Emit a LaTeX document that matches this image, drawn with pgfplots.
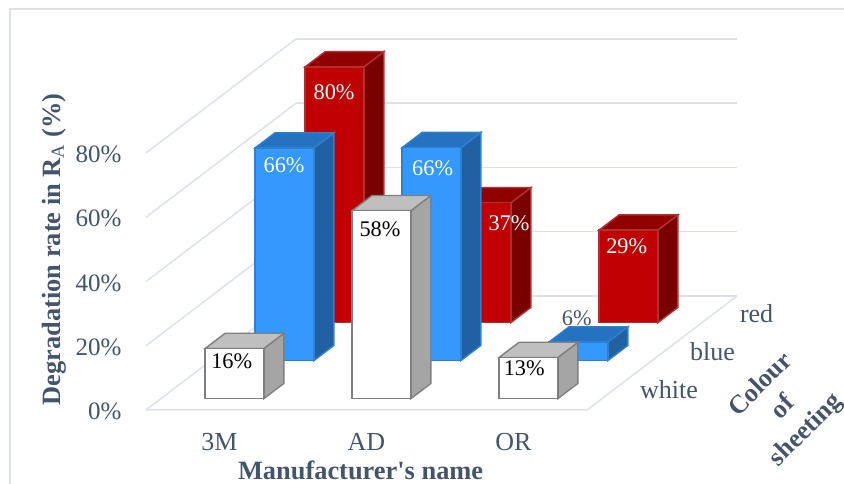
\documentclass[border=0pt]{standalone}
\usepackage{pgfplots}
\pgfplotsset{compat=1.18}
\usepackage{fontspec}
\setmainfont{Liberation Serif}
\definecolor{txt}{HTML}{44546A}
\definecolor{gridc}{HTML}{DDE1E9}
\newcommand\fs[1]{\fontsize{#1}{#1}\selectfont}
% x0 x1 y0 y1 height front side top edge
\newcommand\barbox[9]{%
  \addplot3[fill=#7,draw=#9,line width=\barlw] coordinates {(#2,#3,0)(#2,#4,0)(#2,#4,#5)(#2,#3,#5)} -- cycle;
  \addplot3[fill=#8,draw=#9,line width=\barlw] coordinates {(#1,#3,#5)(#2,#3,#5)(#2,#4,#5)(#1,#4,#5)} -- cycle;
  \addplot3[fill=#6,draw=#9,line width=\barlw] coordinates {(#1,#3,0)(#2,#3,0)(#2,#3,#5)(#1,#3,#5)} -- cycle;
}
\newcommand\barlw{0.3pt}
\definecolor{redF}{HTML}{C00000}\definecolor{redS}{HTML}{7A0000}\definecolor{redT}{HTML}{900000}\definecolor{redE}{HTML}{B03030}
\definecolor{bluF}{HTML}{3399FF}\definecolor{bluS}{HTML}{2161A3}\definecolor{bluT}{HTML}{2573C0}\definecolor{bluE}{HTML}{3080D0}
\definecolor{whiF}{HTML}{FFFFFF}\definecolor{whiS}{HTML}{A5A5A5}\definecolor{whiT}{HTML}{BFBFBF}\definecolor{whiE}{HTML}{7F7F7F}
\begin{document}
\begin{tikzpicture}[x=1pt,y=1pt]
\useasboundingbox (-146,-74) rectangle (698,410);
\draw[gridc,line width=1.6pt] (-136,-74) -- (-136,401) -- (698,401);
\begin{axis}[
  at={(0pt,0pt)},anchor=south west,
  x={(147pt,0pt)},y={(50pt,38pt)},z={(0pt,3.2125pt)},
  xmin=0,xmax=3,ymin=0,ymax=3,zmin=0,zmax=80,
  clip=false,
  axis line style={draw=none},
  major tick length=0pt,
  ztick={0,20,40,60,80},zticklabels={0\%,20\%,40\%,60\%,80\%},
  xtick={0.5,1.5,2.5},xticklabels={3M,AD,OR},
  ytick={0.5,1.5,2.5},yticklabels={white,blue,red},
  zmajorgrids,
  grid style={gridc,line width=1.5pt},
  tick label style={font=\fs{26},text=txt},
  xlabel={\textbf{Manufacturer\textquotesingle s name}},
  zlabel={\textbf{Degradation rate in R\textsubscript{\mdseries A} (\%)}},
  ylabel={\textbf{Colour}\\\textbf{of}\\\textbf{sheeting}},
  x tick label style={anchor=center,yshift=-32pt},
  y tick label style={anchor=west,xshift=24.5pt,yshift=1pt},
  z tick label style={anchor=east,xshift=-21pt,yshift=-1.5pt,font=\fs{25}},
  every axis x label/.style={at={(axis cs:1.46,0,0)},anchor=center,yshift=-60pt,font=\fontsize{26.4}{32}\selectfont,text=txt},
  every axis z label/.style={at={(axis cs:0,0,50)},anchor=center,xshift=-92pt,rotate=90,font=\fontsize{26.4}{32}\selectfont,text=txt},
  every axis y label/.style={at={(axis cs:3,0,0)},anchor=center,xshift=197pt,yshift=2pt,rotate=45,align=center,font=\fontsize{26}{32}\selectfont,text=txt},
]
% floor edges
\addplot3[gridc,line width=1.5pt,forget plot] coordinates {(0,0,0)(3,0,0)(3,3,0)};
% red row
\barbox{0.3}{0.7}{2.3}{2.7}{79.6}{redF}{redS}{redT}{redE}
\barbox{1.3}{1.7}{2.3}{2.7}{37.3}{redF}{redS}{redT}{redE}
\barbox{2.3}{2.7}{2.3}{2.7}{28.8}{redF}{redS}{redT}{redE}
% blue row
\barbox{0.3}{0.7}{1.3}{1.7}{66.2}{bluF}{bluS}{bluT}{bluE}
\barbox{1.3}{1.7}{1.3}{1.7}{66.3}{bluF}{bluS}{bluT}{bluE}
\barbox{2.3}{2.7}{1.3}{1.7}{5.8}{bluF}{bluS}{bluT}{bluE}
% white row
\renewcommand\barlw{1.4pt}
\barbox{0.3}{0.7}{0.3}{0.7}{15.6}{whiF}{whiS}{whiT}{whiE}
\barbox{1.3}{1.7}{0.3}{0.7}{58.5}{whiF}{whiS}{whiT}{whiE}
\barbox{2.3}{2.7}{0.3}{0.7}{12.8}{whiF}{whiS}{whiT}{whiE}
% data labels
\begin{scope}[every node/.style={font=\fs{22.3}}]
\node[white] at (axis cs:0.497,2.3,71.8) {80\%};
\node[white] at (axis cs:0.497,1.3,60.9) {66\%};
\node[white] at (axis cs:1.508,1.3,60.0) {66\%};
\node[white] at (axis cs:1.687,2.3,30.9) {37\%};
\node[white] at (axis cs:2.488,2.3,23.8) {29\%};
\node[txt] at (axis cs:2.488,1.3,13.3) {6\%};
\node[black] at (axis cs:1.49,0.3,52.8) {58\%};
\node[black] at (axis cs:0.481,0.3,11.5) {16\%};
\node[black] at (axis cs:2.471,0.3,9.4) {13\%};
\end{scope}
\end{axis}
\end{tikzpicture}
\end{document}
